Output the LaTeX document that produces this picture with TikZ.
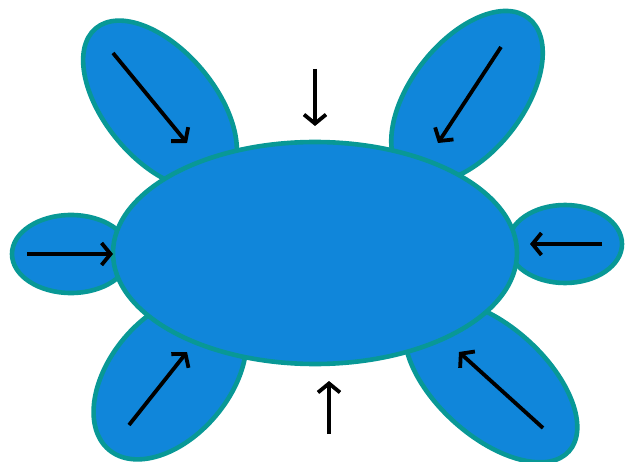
\documentclass[tikz,border=0pt]{standalone}
\usetikzlibrary{arrows.meta}
\definecolor{petalfill}{RGB}{16,134,218}
\definecolor{petalline}{RGB}{8,152,150}
\begin{document}
\begin{tikzpicture}[x=1pt,y=-1pt,
  blob/.style={fill=petalfill,draw=petalline,line width=4.6pt},
  push/.style={draw=black,line width=3.8pt,-{Straight Barb[length=9pt,width=22pt]}}]
\useasboundingbox (0,0) rectangle (631,462);
% petals (behind body)
\draw[blob,rotate around={-50:(160,105)}] (160,105) ellipse [x radius=100,y radius=55];
\draw[blob,rotate around={52:(467,97)}] (467,97) ellipse [x radius=100,y radius=56];
\draw[blob,rotate around={50:(170,377)}] (170,377) ellipse [x radius=95,y radius=60];
\draw[blob,rotate around={-42:(491,381)}] (491,381) ellipse [x radius=105,y radius=55];
\draw[blob] (71,254) ellipse [x radius=59,y radius=39];
\draw[blob] (565,244) ellipse [x radius=57,y radius=39];
% body
\draw[blob] (315,253) ellipse [x radius=202,y radius=111];
% arrows
\coordinate (a1) at (113,53);  \coordinate (b1) at (187,143);
\coordinate (a2) at (315,69);  \coordinate (b2) at (315,126);
\coordinate (a3) at (501,47);  \coordinate (b3) at (438,143);
\coordinate (a4) at (27,254);  \coordinate (b4) at (113,254);
\coordinate (a5) at (602,244); \coordinate (b5) at (530,244);
\coordinate (a6) at (129,425); \coordinate (b6) at (187,352);
\coordinate (a7) at (329,434); \coordinate (b7) at (329,381);
\coordinate (a8) at (543,428); \coordinate (b8) at (459,352);
\foreach \i in {1,...,8} {\draw[push] (a\i) -- (b\i);}
\end{tikzpicture}
\end{document}
